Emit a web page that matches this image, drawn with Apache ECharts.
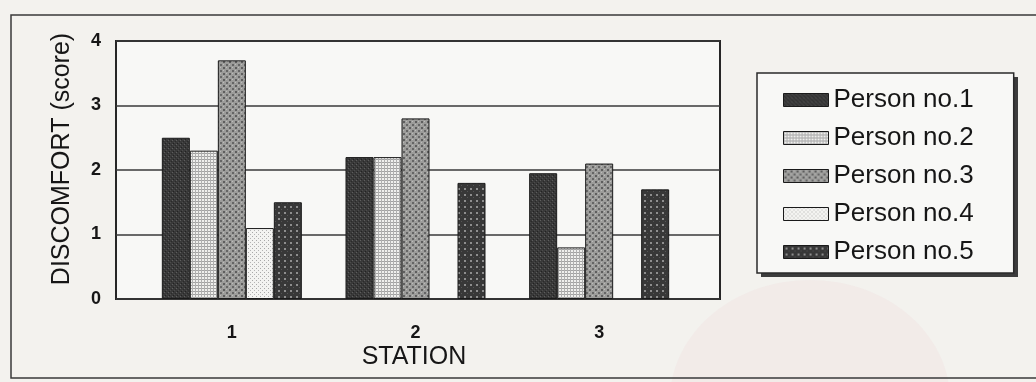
<!DOCTYPE html>
<html>
<head>
<meta charset="utf-8">
<script src="https://cdn.jsdelivr.net/npm/echarts@6/dist/echarts.min.js"></script>
<style>
  html, body { margin: 0; padding: 0; background: #f3f2ee; }
  #chart { width: 1036px; height: 382px; }
</style>
</head>
<body>
<div id="chart"></div>
<script>
// Discomfort scores per station for five people
const stations = ['1', '2', '3'];
const personNames = ['Person no.1', 'Person no.2', 'Person no.3', 'Person no.4', 'Person no.5'];
const person1 = [2.5, 2.2, 1.95];
const person2 = [2.3, 2.2, 0.8];
const person3 = [3.7, 2.8, 2.1];
const person4 = [1.1, null, null];
const person5 = [1.5, 1.8, 1.7];
const yTicks = [0, 1, 2, 3, 4];

// Small tiled fill patterns, one per person
function makePattern(size, base, dots) {
  const c = document.createElement('canvas');
  c.width = size; c.height = size;
  const g = c.getContext('2d');
  g.fillStyle = base;
  g.fillRect(0, 0, size, size);
  dots.forEach(function (d) {
    g.fillStyle = d[4];
    g.fillRect(d[0], d[1], d[2], d[3]);
  });
  return { image: c, repeat: 'repeat' };
}

const patterns = [
  makePattern(4, '#393939', [[0, 0, 1, 1, '#5e5e5e'], [2, 2, 1, 1, '#4c4c4c'], [1, 3, 1, 1, '#222'], [3, 1, 1, 1, '#2a2a2a']]),
  makePattern(3, '#efefed', [[0, 0, 3, 1, '#a2a2a2'], [0, 0, 1, 3, '#b0b0b0']]),
  makePattern(6, '#9c9c9a', [[1, 1, 2, 2, '#5e5e5e'], [4, 4, 2, 2, '#666'], [4, 1, 1, 1, '#bdbdbb'], [1, 4, 1, 1, '#bdbdbb']]),
  makePattern(4, '#f3f3f1', [[0, 0, 1, 1, '#a8a8a8'], [2, 2, 1, 1, '#b4b4b4']]),
  makePattern(6, '#383838', [[2, 2, 2, 2, '#8e8e8e'], [5, 5, 1, 1, '#555']])
];

const seriesData = [person1, person2, person3, person4, person5];

const series = seriesData.map(function (vals, i) {
  return {
    name: personNames[i],
    type: 'bar',
    xAxisIndex: 1,
    yAxisIndex: 1,
    barWidth: 28,
    barGap: '0%',
    data: vals,
    itemStyle: {
      color: patterns[i],
      borderColor: '#1a1a1a',
      borderWidth: 1
    }
  };
});

const textColor = '#161616';
const fontFamily = '"Liberation Sans", Arial, sans-serif';

const chart = echarts.init(document.getElementById('chart'), null, { renderer: 'canvas' });

chart.setOption({
  backgroundColor: '#f3f2ee',
  animation: false,
  textStyle: { fontFamily: fontFamily, color: textColor },
  grid: [
    // framed plot area carrying the value gridlines
    { left: 116, right: 316, top: 41, bottom: 83, show: true, borderColor: '#262626', borderWidth: 2, backgroundColor: '#f8f8f6', containLabel: false },
    // bar layout area
    { left: 140, width: 551, top: 41, bottom: 83, containLabel: false }
  ],
  xAxis: [
    { gridIndex: 0, type: 'value', show: false, min: 0, max: 1 },
    {
      gridIndex: 1,
      type: 'category',
      data: stations,
      axisLine: { show: false },
      axisTick: { show: false },
      axisLabel: { margin: 25, fontSize: 18, fontWeight: 'bold', color: textColor, fontFamily: fontFamily }
    }
  ],
  yAxis: [
    {
      gridIndex: 0,
      type: 'value',
      min: yTicks[0],
      max: yTicks[yTicks.length - 1],
      interval: 1,
      axisLine: { show: false },
      axisTick: { show: false },
      axisLabel: { margin: 15, fontSize: 18, fontWeight: 'bold', color: textColor, fontFamily: fontFamily },
      splitLine: { lineStyle: { color: '#3a3a3a', width: 1.5 } }
    },
    {
      gridIndex: 1,
      type: 'value',
      min: yTicks[0],
      max: yTicks[yTicks.length - 1],
      show: false
    }
  ],
  legend: {
    left: 757,
    top: 73,
    orient: 'vertical',
    icon: 'rect',
    itemWidth: 45,
    itemHeight: 13,
    itemGap: 12,
    padding: [14, 40, 8, 26],
    backgroundColor: '#f8f8f6',
    borderColor: '#2a2a2a',
    borderWidth: 1.5,
    itemStyle: { borderColor: '#1a1a1a', borderWidth: 1 },
    textStyle: { fontSize: 26, lineHeight: 26, color: textColor, fontFamily: fontFamily },
    data: personNames
  },
  graphic: [
    // faint seal printed on the page
    { type: 'ellipse', z: -10, silent: true, shape: { cx: 810, cy: 400, rx: 140, ry: 120 }, style: { fill: 'rgba(236,196,206,0.16)' } },
    { type: 'circle', z: -10, silent: true, shape: { cx: 520, cy: 130, r: 90 }, style: { fill: 'rgba(240,226,170,0.14)' } },
    // outer frame
    { type: 'rect', z: 1, silent: true, shape: { x: 11, y: 15, width: 1040, height: 363 }, style: { fill: 'none', stroke: '#3a3a3a', lineWidth: 1.5 } },
    // drop shadow behind the legend box
    { type: 'rect', z: 1, silent: true, shape: { x: 761, y: 77, width: 257, height: 200 }, style: { fill: '#3c3c3c' } },
    // axis titles
    {
      type: 'text', z: 5, x: 62, y: 159, rotation: Math.PI / 2,
      style: { text: 'DISCOMFORT (score)', fontSize: 25, fontFamily: fontFamily, fill: textColor, align: 'center', verticalAlign: 'middle' }
    },
    {
      type: 'text', z: 5, x: 414, y: 357,
      style: { text: 'STATION', fontSize: 25, fontFamily: fontFamily, fill: textColor, align: 'center', verticalAlign: 'middle' }
    }
  ],
  series: series
});
</script>
</body>
</html>
